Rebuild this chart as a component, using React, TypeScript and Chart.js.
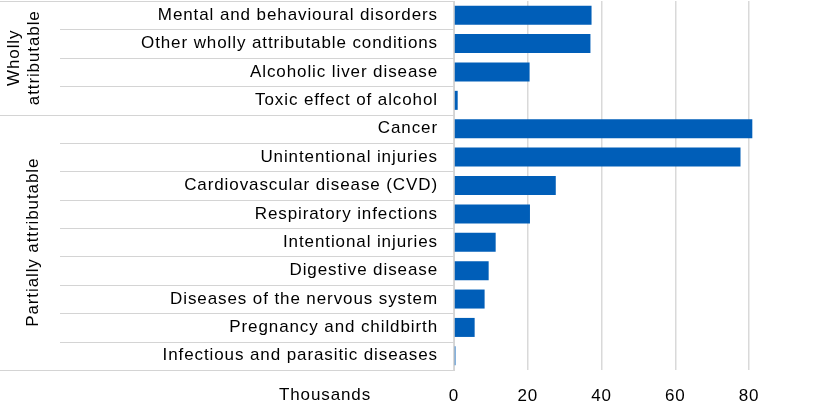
import React, { useEffect, useRef } from 'react';
import { Chart, registerables } from 'chart.js';

Chart.register(...registerables);

// Deaths attributable to alcohol, by condition (thousands)
const categories = [
  'Mental and behavioural disorders',
  'Other wholly attributable conditions',
  'Alcoholic liver disease',
  'Toxic effect of alcohol',
  'Cancer',
  'Unintentional injuries',
  'Cardiovascular disease (CVD)',
  'Respiratory infections',
  'Intentional injuries',
  'Digestive disease',
  'Diseases of the nervous system',
  'Pregnancy and childbirth',
  'Infectious and parasitic diseases',
];

const values = [37.3, 37.0, 20.5, 1.0, 80.9, 77.7, 27.6, 20.6, 11.3, 9.4, 8.3, 5.6, 0.4];

const groupLabels = [['Wholly', 'attributable'], ['Partially attributable']];
const groupStarts = [0, 4];
const groupEnds = [4, 13];

const xTickValues = [0, 20, 40, 60, 80];
const xAxisMax = 96;
const axisTitle = 'Thousands';

const FONT = '"Liberation Sans", Arial, sans-serif';
const FONT_SIZE = 17;
const LETTER_SPACING = '0.9px';
const BAR_COLOR = '#005EB8';
const LINE_COLOR = '#d4d4d4';

const spacingPlugin = {
  id: 'letterSpacing',
  beforeDraw(chart: any) {
    chart.ctx.letterSpacing = LETTER_SPACING;
  },
};

const groupPlugin = {
  id: 'groupLabels',
  afterDraw(chart: any) {
    const { ctx, chartArea } = chart;
    const y = chart.scales.y;
    const x = chart.scales.x;
    const n = categories.length;
    const pitch = (chartArea.bottom - chartArea.top) / n;
    const boundary = (i: number) =>
      i < n ? y.getPixelForValue(i) - pitch / 2 : y.getPixelForValue(n - 1) + pitch / 2;

    ctx.save();
    ctx.strokeStyle = LINE_COLOR;
    ctx.lineWidth = 1;
    for (let i = 0; i <= n; i++) {
      const isGroupEdge = i === 0 || groupStarts.includes(i) || groupEnds.includes(i);
      const yy = Math.round(boundary(i)) + 0.5;
      ctx.beginPath();
      ctx.moveTo(isGroupEdge ? 0 : 60, yy);
      ctx.lineTo(chartArea.left, yy);
      ctx.stroke();
    }

    ctx.fillStyle = '#000';
    ctx.font = `${FONT_SIZE}px ${FONT}`;
    ctx.letterSpacing = LETTER_SPACING;
    ctx.textAlign = 'center';
    ctx.textBaseline = 'middle';
    groupLabels.forEach((lines, g) => {
      const top = boundary(groupStarts[g]);
      const bottom = boundary(groupEnds[g]);
      const cy = (top + bottom) / 2;
      const lineH = 20;
      const cx = lines.length > 1 ? 24 : 33;
      ctx.save();
      ctx.translate(cx, cy);
      ctx.rotate(-Math.PI / 2);
      lines.forEach((line, k) => {
        ctx.fillText(line, 0, (k - (lines.length - 1) / 2) * lineH);
      });
      ctx.restore();
    });

    ctx.textAlign = 'center';
    ctx.fillText(axisTitle, 325, x.top + 25);
    ctx.restore();
  },
};

export default function App() {
  const canvasRef = useRef<HTMLCanvasElement>(null);

  useEffect(() => {
    const canvas = canvasRef.current;
    if (!canvas) return;
    const chart = new Chart(canvas, {
      type: 'bar',
      data: {
        labels: categories,
        datasets: [
          {
            data: values,
            backgroundColor: BAR_COLOR,
            borderWidth: 0,
            categoryPercentage: 1,
            barPercentage: 0.67,
          },
        ],
      },
      options: {
        indexAxis: 'y',
        responsive: false,
        animation: false,
        layout: { padding: { top: 1, right: 19, left: 0, bottom: 0 } },
        plugins: {
          legend: { display: false },
          tooltip: { enabled: false },
        },
        scales: {
          x: {
            min: 0,
            max: xAxisMax,
            afterBuildTicks: (scale: any) => {
              scale.ticks = xTickValues.map((v) => ({ value: v }));
            },
            afterFit: (scale: any) => {
              scale.height = 43;
              scale.paddingLeft = 0;
              scale.paddingRight = 0;
            },
            grid: {
              color: '#d9d9d9',
              lineWidth: 1.5,
              drawTicks: false,
            },
            border: { display: false },
            ticks: {
              color: '#000',
              font: { family: FONT, size: FONT_SIZE },
              padding: 16,
              maxRotation: 0,
            },
          },
          y: {
            afterFit: (scale: any) => {
              scale.width = 454;
              scale.paddingTop = 0;
              scale.paddingBottom = 0;
            },
            grid: { display: false, drawTicks: false },
            border: { display: true, color: LINE_COLOR, width: 1 },
            ticks: {
              color: '#000',
              font: { family: FONT, size: FONT_SIZE },
              padding: 16,
              autoSkip: false,
            },
          },
        },
      },
      plugins: [spacingPlugin, groupPlugin],
    });
    return () => chart.destroy();
  }, []);

  return (
    <div style={{ position: 'fixed', left: 0, top: 0, width: 827, height: 413, background: '#fff' }}>
      <canvas ref={canvasRef} width={827} height={413} />
    </div>
  );
}
